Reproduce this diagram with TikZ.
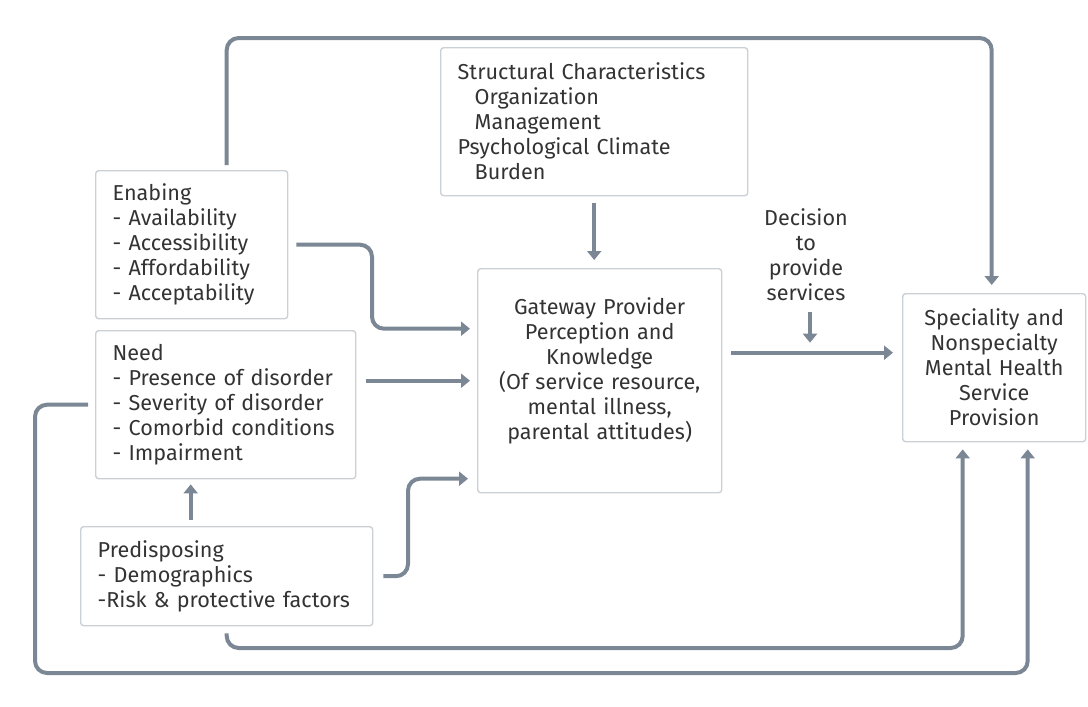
\documentclass[tikz,border=0pt]{standalone}
\usepackage{fontspec}
\setmainfont{Fira Sans}
\usetikzlibrary{arrows.meta}
\definecolor{linegray}{HTML}{7B8794}
\definecolor{boxgray}{HTML}{CBD0D5}
\definecolor{textgray}{HTML}{333333}

\begin{document}
\begin{tikzpicture}[x=0.5pt,y=0.5pt,>={Triangle[width=7pt,length=4.5pt]},
    conn/.style={->,line width=2pt,draw=linegray,rounded corners=6pt},
    box/.style={draw=boxgray,line width=0.7pt,rounded corners=1.5pt,anchor=north west,inner xsep=8.5pt,text=textgray,font=\fontsize{10.8}{12.5}\selectfont},
    plain/.style={text=textgray,inner sep=0pt,align=center,font=\fontsize{10.8}{12.5}\selectfont}]
    \useasboundingbox (0,0) rectangle (1088,-707);

    \node[box, minimum width=96pt, minimum height=74pt, text width=79pt, align=left] (enab) at (95,-170)
        {Enabing\\- Availability\\- Accessibility\\- Affordability\\- Acceptability};
    \node[box, minimum width=130pt, minimum height=74pt, text width=113pt, align=left] (need) at (95,-330)
        {Need\\- Presence of disorder\\- Severity of disorder\\- Comorbid conditions\\- Impairment};
    \node[box, minimum width=146pt, minimum height=49.5pt, text width=129pt, align=left] (pred) at (80,-526)
        {Predisposing\\- Demographics\\-Risk \& protective factors};
    \node[box, minimum width=153.5pt, minimum height=74pt, text width=136.5pt, align=left] (struct) at (440,-47)
        {Structural Characteristics\\\hspace*{8.5pt}Organization\\\hspace*{8.5pt}Management\\Psychological Climate\\\hspace*{8.5pt}Burden};
    \node[box, minimum width=122pt, minimum height=112pt, inner xsep=3pt, text width=116pt, align=center] (gate) at (477,-268)
        {Gateway Provider\\Perception and\\Knowledge\\(Of service resource,\\mental illness,\\parental attitudes)\\\mbox{}};
    \node[box, minimum width=91.5pt, minimum height=74pt, inner xsep=3pt, text width=85.5pt, align=center] (spec) at (902,-293)
        {Speciality and\\Nonspecialty\\Mental Health\\Service\\Provision};
    \node[plain] (dec) at (806,-254.5) {Decision\\to\\provide\\services};

    % helper points for the long loops
    \coordinate (topy) at (0,-38);
    \coordinate (boty) at (0,-648);
    \coordinate (lowy) at (0,-673);
    \coordinate (leftx) at (35,0);
    \coordinate (in1) at ([xshift=-15.75pt]spec.south);
    \coordinate (in2) at ([xshift=16.75pt]spec.south);
    \coordinate (go) at ([yshift=14pt]gate.east);

    \draw[conn,shorten <=2.5pt,shorten >=4pt] ([xshift=17.5pt]enab.north) |- ([xshift=-1.25pt]spec.north |- topy) -- ([xshift=-1.25pt]spec.north);
    \draw[conn,shorten <=4pt,shorten >=3.5pt] (enab.east) -| ([xshift=-52.5pt,yshift=26pt]gate.west) -- ([yshift=26pt]gate.west);
    \draw[conn,shorten <=5pt,shorten >=3.5pt] (need.east |- gate.west) -- (gate.west);
    \draw[conn,shorten <=5pt,shorten >=4.5pt] (pred.east) -| ([xshift=-34.5pt,yshift=-49pt]gate.west) -- ([yshift=-49pt]gate.west);
    \draw[conn,shorten <=3pt,shorten >=2.5pt] ([xshift=-18pt]pred.north) -- ([xshift=-18pt]pred.north |- need.south);
    \draw[conn,shorten <=3.5pt,shorten >=4pt] (struct.south) -- (struct.south |- gate.north);
    \draw[conn,shorten <=4.5pt,shorten >=4.5pt] (go) -- (go -| spec.west);
    \draw[conn,shorten <=5.5pt,shorten >=5pt] ([xshift=2pt]dec.south) -- ([xshift=2pt]dec.south |- go);
    \draw[conn,shorten <=3.5pt,shorten >=3.5pt] (pred.south) |- (in1 |- boty) -- (in1);
    \draw[conn,shorten <=3.5pt,shorten >=3.5pt] (need.west) -| (leftx |- lowy) -| (in2);
\end{tikzpicture}
\end{document}
